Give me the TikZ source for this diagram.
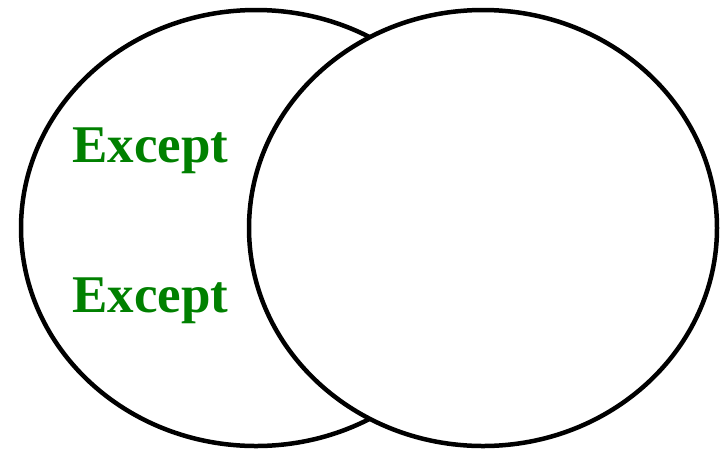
\documentclass[tikz,border=0pt]{standalone}
\usepackage{fontspec}
\setmainfont{Liberation Serif}
\definecolor{exceptgreen}{RGB}{0,128,0}

\begin{document}
\begin{tikzpicture}[
        x=1pt, y=-1pt,
        set/.style={draw=black, line width=4.5pt},
        label text/.style={text=exceptgreen, font=\fontsize{53}{60}\selectfont\bfseries,
          inner sep=0pt, anchor=base west}
      ]

      \useasboundingbox (0,0) rectangle (720,451);

      % left set
      \draw[set] (256,228) ellipse [x radius=235, y radius=218];
      % right set, covers the left one
      \draw[set, fill=white] (483,228) ellipse [x radius=234, y radius=218];

      \node[label text] (except1) at (72,162) {Except};
      \node[label text] (except2) at (72,312) {Except};
    \end{tikzpicture}
\end{document}
